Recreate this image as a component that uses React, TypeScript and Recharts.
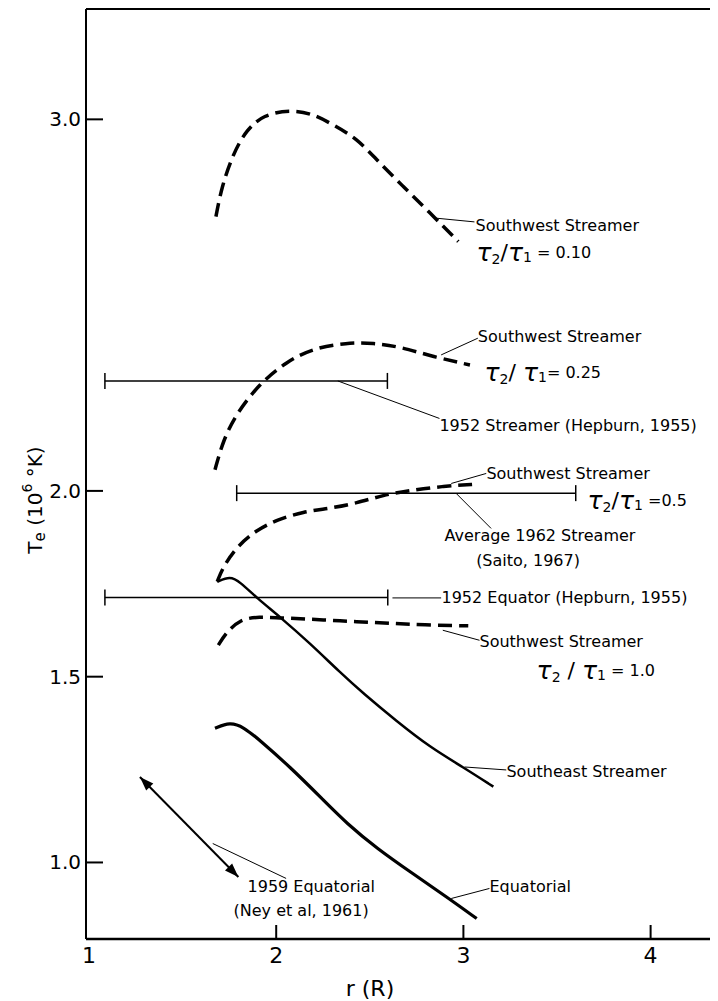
import React from 'react'
import { LineChart, Line, XAxis, YAxis, ReferenceLine, ReferenceDot } from 'recharts'

// r in units of R (solar radii), Te in 10^6 K
const sw010R = [1.678, 1.709, 1.771, 1.842, 1.931, 2.074, 2.198, 2.305, 2.43, 2.537, 2.679, 2.822, 2.973]
const sw010T = [2.738, 2.819, 2.909, 2.972, 3.012, 3.026, 3.015, 2.985, 2.949, 2.891, 2.819, 2.748, 2.671]

const sw025R = [1.673, 1.717, 1.789, 1.913, 2.056, 2.198, 2.377, 2.519, 2.661, 2.839, 3.035]
const sw025T = [2.057, 2.137, 2.209, 2.29, 2.348, 2.384, 2.399, 2.398, 2.388, 2.361, 2.339]

const sw05R = [1.685, 1.717, 1.789, 1.896, 2.003, 2.145, 2.287, 2.43, 2.572, 2.715, 2.893, 3.071]
const sw05T = [1.756, 1.796, 1.85, 1.895, 1.922, 1.944, 1.953, 1.967, 1.989, 2.001, 2.013, 2.018]

const sw10R = [1.691, 1.736, 1.807, 1.896, 2.074, 2.252, 2.43, 2.608, 2.786, 3.026]
const sw10T = [1.585, 1.621, 1.653, 1.662, 1.657, 1.653, 1.648, 1.644, 1.639, 1.637]

const seR = [1.685, 1.753, 1.807, 1.896, 2.02, 2.18, 2.34, 2.465, 2.644, 2.822, 3.0, 3.16]
const seT = [1.755, 1.771, 1.755, 1.712, 1.661, 1.59, 1.512, 1.455, 1.38, 1.31, 1.256, 1.204]

const eqR = [1.673, 1.753, 1.824, 1.913, 2.074, 2.252, 2.377, 2.537, 2.732, 2.911, 3.071]
const eqT = [1.361, 1.378, 1.365, 1.329, 1.257, 1.168, 1.105, 1.038, 0.969, 0.907, 0.849]

// horizontal ranges
const hep52StreamerR = [1.085, 2.594]
const hep52StreamerT = 2.296
const saito62R = [1.789, 3.6]
const saito62T = 1.994
const hep52EquatorR = [1.085, 2.596]
const hep52EquatorT = 1.713

// Ney et al arrow
const neyR = [1.272, 1.798]
const neyT = [1.23, 0.961]

const xTicks = [1, 2, 3, 4]
const yTicks = [1.0, 1.5, 2.0, 3.0]
const xDomain = [0.984, 4.36]
const yDomain = [0.794, 3.297]

const notes = [
  { r: 3.065, t: 2.715, text: 'Southwest Streamer' },
  { r: 3.077, t: 2.415, text: 'Southwest Streamer' },
  { r: 2.872, t: 2.177, text: '1952 Streamer (Hepburn, 1955)' },
  { r: 3.123, t: 2.047, text: 'Southwest Streamer' },
  { r: 2.899, t: 1.88, text: 'Average 1962 Streamer' },
  { r: 3.068, t: 1.812, text: '(Saito, 1967)' },
  { r: 2.883, t: 1.714, text: '1952 Equator (Hepburn, 1955)' },
  { r: 3.086, t: 1.594, text: 'Southwest Streamer' },
  { r: 3.23, t: 1.244, text: 'Southeast Streamer' },
  { r: 3.139, t: 0.934, text: 'Equatorial' },
  { r: 1.847, t: 0.934, text: '1959 Equatorial' },
  { r: 1.772, t: 0.872, text: '(Ney et al, 1961)' },
]

const tauNotes = [
  { r: 3.07, t: 2.643, sep: '/', value: ' = 0.10' },
  { r: 3.113, t: 2.321, sep: '/ ', value: '= 0.25' },
  { r: 3.663, t: 1.975, sep: '/', value: ' =0.5' },
  { r: 3.391, t: 1.518, sep: ' / ', value: ' = 1.0' },
]

const leaders = [
  [2.855, 2.734, 3.059, 2.724],
  [2.881, 2.366, 3.077, 2.411],
  [2.329, 2.296, 2.872, 2.195],
  [2.935, 2.02, 3.122, 2.047],
  [2.962, 1.993, 3.148, 1.899],
  [2.621, 1.712, 2.881, 1.712],
  [2.89, 1.625, 3.086, 1.598],
  [3.006, 1.257, 3.229, 1.249],
  [2.935, 0.903, 3.139, 0.93],
  [1.661, 1.051, 2.053, 0.957],
]

const zip = (r: number[], t: number[]) => r.map((v, i) => ({ r: v, t: t[i] }))
const flat = (r: number[], t: number) => r.map(v => ({ r: v, t }))

const FONT = 'DejaVu Sans'

const YTick = (props: any) => {
  const { x, y, payload } = props
  return (
    <g>
      <line x1={x} x2={x + 17} y1={y} y2={y} stroke="#000" strokeWidth={2} />
      <text x={x - 5} y={y} textAnchor="end" dominantBaseline="central" fontSize={20} fontFamily={FONT} fill="#000">
        {Number(payload.value).toFixed(1)}
      </text>
    </g>
  )
}

const XTick = (props: any) => {
  const { x, y, payload } = props
  return (
    <g>
      {payload.value !== 1 && <line x1={x} x2={x} y1={y} y2={y - 14} stroke="#000" strokeWidth={2} />}
      <text x={x} y={y + 16} textAnchor="middle" dominantBaseline="central" fontSize={22} fontFamily={FONT} fill="#000">
        {payload.value}
      </text>
    </g>
  )
}

const Cap = (p: any) => {
  if (p.cx == null) return <g />
  return <line x1={p.cx} x2={p.cx} y1={p.cy - 8} y2={p.cy + 8} stroke="#000" strokeWidth={1.5} />
}

const ArrowHead = (p: any) => {
  const { cx, cy, index, points } = p
  if (cx == null) return <g />
  let ang = index === 0 ? (-3 * Math.PI) / 4 : Math.PI / 4
  if (points && points.length > 1) {
    const o = points[index === 0 ? 1 : 0]
    ang = Math.atan2(cy - o.y, cx - o.x)
  }
  const len = 14
  const half = 5
  const bx = cx - len * Math.cos(ang)
  const by = cy - len * Math.sin(ang)
  const nx = -Math.sin(ang) * half
  const ny = Math.cos(ang) * half
  return <polygon points={`${cx},${cy} ${bx + nx},${by + ny} ${bx - nx},${by - ny}`} fill="#000" />
}

const dashed = { stroke: '#000', strokeWidth: 3.5, strokeDasharray: '14 7', dot: false, activeDot: false, isAnimationActive: false, type: 'basis' as const }

export default function App() {
  return (
    <LineChart width={710} height={993} margin={{ top: 1, right: 0, bottom: 0, left: 0 }}>
      <XAxis
        type="number"
        dataKey="r"
        domain={xDomain}
        ticks={xTicks}
        allowDataOverflow
        height={62}
        tickSize={0}
        tickMargin={0}
        tickLine={false}
        tick={<XTick />}
        axisLine={{ stroke: '#000', strokeWidth: 2.5 }}
        label={{
          content: (p: any) => {
            const vb = p.viewBox
            return (
              <text x={362} y={vb.y + 49} textAnchor="middle" dominantBaseline="central" fontSize={22} fontFamily={FONT} fill="#000">
                r (R)
              </text>
            )
          },
        }}
      />
      <YAxis
        type="number"
        dataKey="t"
        domain={yDomain}
        ticks={yTicks}
        allowDataOverflow
        width={78}
        tickSize={0}
        tickMargin={0}
        tickLine={false}
        tick={<YTick />}
        axisLine={{ stroke: '#000', strokeWidth: 2 }}
        label={{
          content: () => (
            <text
              x={27}
              y={492}
              transform="rotate(-90, 27, 492)"
              textAnchor="middle"
              dominantBaseline="central"
              fontSize={20}
              fontFamily={FONT}
              fill="#000"
            >
              T<tspan fontSize={15} dy={5}>e</tspan>
              <tspan dy={-5}> (10</tspan>
              <tspan fontSize={14} dy={-8}>6</tspan>
              <tspan dy={8}> °K)</tspan>
            </text>
          ),
        }}
      />
      <ReferenceLine y={yDomain[1]} stroke="#000" strokeWidth={2} />

      {leaders.map((l, i) => (
        <ReferenceLine key={'ld' + i} segment={[{ x: l[0], y: l[1] }, { x: l[2], y: l[3] }]} stroke="#000" strokeWidth={1} />
      ))}

      <Line data={zip(sw010R, sw010T)} dataKey="t" {...dashed} />
      <Line data={zip(sw025R, sw025T)} dataKey="t" {...dashed} />
      <Line data={zip(sw05R, sw05T)} dataKey="t" {...dashed} />
      <Line data={zip(sw10R, sw10T)} dataKey="t" {...dashed} />
      <Line data={zip(seR, seT)} dataKey="t" type="basis" stroke="#000" strokeWidth={2.5} dot={false} activeDot={false} isAnimationActive={false} />
      <Line data={zip(eqR, eqT)} dataKey="t" type="basis" stroke="#000" strokeWidth={3.2} dot={false} activeDot={false} isAnimationActive={false} />

      <Line data={flat(hep52StreamerR, hep52StreamerT)} dataKey="t" type="linear" stroke="#000" strokeWidth={1.5} dot={<Cap />} activeDot={false} isAnimationActive={false} />
      <Line data={flat(saito62R, saito62T)} dataKey="t" type="linear" stroke="#000" strokeWidth={1.5} dot={<Cap />} activeDot={false} isAnimationActive={false} />
      <Line data={flat(hep52EquatorR, hep52EquatorT)} dataKey="t" type="linear" stroke="#000" strokeWidth={1.5} dot={<Cap />} activeDot={false} isAnimationActive={false} />

      <Line data={zip(neyR, neyT)} dataKey="t" type="linear" stroke="#000" strokeWidth={2} dot={<ArrowHead />} activeDot={false} isAnimationActive={false} />

      {notes.map((n, i) => (
        <ReferenceDot
          key={'nt' + i}
          x={n.r}
          y={n.t}
          r={0}
          shape={(p: any) => (
            <text x={p.cx} y={p.cy} dominantBaseline="central" fontSize={16} fontFamily={FONT} fill="#000">
              {n.text}
            </text>
          )}
        />
      ))}

      {tauNotes.map((n, i) => (
        <ReferenceDot
          key={'tau' + i}
          x={n.r}
          y={n.t}
          r={0}
          shape={(p: any) => (
            <text x={p.cx} y={p.cy} dominantBaseline="central" fontFamily={FONT} fill="#000" fontSize={16}>
              <tspan fontSize={25} fontStyle="italic">τ</tspan>
              <tspan fontSize={14} dy={7}>2</tspan>
              <tspan fontSize={22} dy={-7} xmlSpace="preserve">{n.sep}</tspan>
              <tspan fontSize={25} fontStyle="italic">τ</tspan>
              <tspan fontSize={14} dy={5}>1</tspan>
              <tspan fontSize={16} dy={-5} xmlSpace="preserve">{n.value}</tspan>
            </text>
          )}
        />
      ))}
    </LineChart>
  )
}
